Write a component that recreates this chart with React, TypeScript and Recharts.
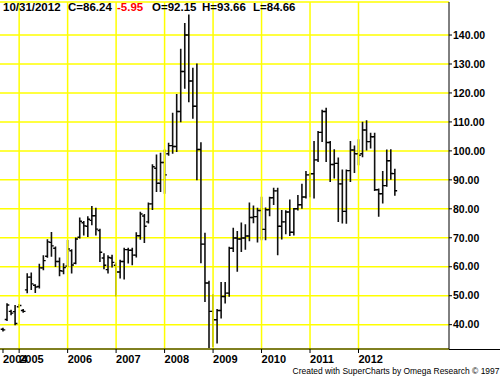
import React from "react"
import {
  ComposedChart,
  Bar,
  XAxis,
  YAxis,
  CartesianGrid,
  ReferenceLine,
} from "recharts"

// monthly bars from Sep 2004 to Oct 2012, month index counted from Jan 2005
const firstMonth = -4

const opens = [
  38.4, 41.8, 44.6, 44.5,
  46.2, 44.9, 52.0, 56.4, 53.6, 53.2, 59.6, 63.6, 68.4, 66.4, 61.8, 58.5,
  60.2, 65.5, 61.2, 70.2, 75.2, 74.0, 76.0, 77.6, 72.5, 63.0, 59.0, 63.0,
  60.5, 58.2, 61.8, 65.9, 65.7, 64.0, 70.7, 77.5, 75.5, 81.7, 94.0, 88.8,
  96.0, 99.0, 101.8, 101.5, 113.6, 127.4, 140.0, 124.1, 115.4, 100.5, 67.8, 54.4,
  44.6, 41.7, 44.9, 49.7, 50.9, 66.4, 69.9, 69.6, 69.9, 70.6, 77.0, 77.3,
  79.4, 72.9, 79.7, 83.8, 86.2, 74.0, 75.5, 78.9, 71.9, 80.0, 81.4, 84.1,
  91.7, 92.1, 96.9, 106.4, 113.6, 102.9, 95.3, 95.7, 88.6, 79.1, 93.2, 100.3,
  99.0, 99.0, 107.2, 103.2, 104.9, 86.6, 85.2, 88.0, 96.6, 92.15,
]
const highs = [
  38.8, 47.2, 45.0, 46.6,
  47.0, 45.2, 57.6, 57.8, 53.8, 60.9, 63.8, 69.3, 71.8, 66.8, 63.0, 61.0,
  69.1, 65.9, 69.9, 76.8, 75.6, 77.3, 80.8, 80.2, 72.9, 64.5, 63.8, 64.0,
  61.3, 62.2, 66.4, 66.4, 66.4, 71.7, 78.8, 78.0, 82.0, 95.2, 98.6, 99.2,
  100.3, 102.6, 113.0, 119.5, 135.1, 144.0, 146.9, 128.5, 130.0, 102.8, 71.6, 55.0,
  50.3, 45.2, 54.6, 54.6, 66.7, 73.3, 72.2, 75.1, 74.5, 82.0, 81.0, 80.2,
  84.0, 80.3, 84.0, 87.1, 87.1, 79.4, 79.3, 83.0, 80.1, 84.6, 88.5, 92.9,
  92.3, 103.2, 106.7, 114.0, 114.7, 103.2, 100.4, 97.5, 93.4, 93.4, 103.2, 101.7,
  103.8, 109.9, 110.4, 106.1, 106.1, 86.8, 92.9, 100.3, 100.4, 93.66,
]
const lows = [
  37.8, 41.4, 43.4, 40.0,
  46.0, 44.3, 51.0, 52.1, 51.1, 52.7, 59.0, 63.3, 63.6, 60.1, 56.9, 57.6,
  60.1, 57.8, 61.0, 69.9, 71.0, 70.4, 74.5, 71.0, 61.8, 59.3, 57.8, 59.9,
  49.9, 56.1, 55.8, 61.3, 60.7, 63.4, 69.5, 68.4, 75.1, 79.8, 86.0, 86.0,
  85.4, 98.5, 99.2, 99.8, 110.1, 121.6, 117.0, 111.3, 90.0, 61.4, 48.0, 32.1,
  32.5, 33.7, 42.3, 47.5, 49.8, 65.3, 58.4, 65.3, 66.0, 69.0, 75.2, 68.5,
  69.3, 69.3, 77.6, 81.5, 64.1, 69.6, 71.4, 70.8, 71.0, 79.6, 80.2, 83.7,
  84.2, 83.7, 96.3, 103.2, 96.3, 89.4, 90.6, 75.6, 75.1, 75.0, 89.4, 92.5,
  95.2, 98.0, 100.3, 101.0, 86.3, 77.4, 82.0, 87.8, 90.2, 84.66,
]
const closes = [
  38.2, 46.8, 44.0, 40.4,
  46.6, 44.6, 56.4, 54.1, 53.0, 59.6, 62.1, 68.6, 67.2, 61.8, 58.6, 59.7,
  66.1, 60.6, 69.6, 75.7, 74.1, 76.4, 77.6, 73.0, 65.0, 60.5, 63.2, 61.5,
  58.2, 61.8, 65.9, 65.7, 64.0, 70.7, 78.2, 74.0, 81.7, 94.5, 88.8, 96.0,
  91.7, 101.8, 101.5, 113.6, 127.4, 140.0, 124.1, 115.4, 100.5, 67.8, 54.4, 44.6,
  41.7, 44.9, 49.7, 50.9, 66.4, 69.9, 69.6, 69.9, 70.6, 77.0, 77.3, 79.4,
  72.9, 79.7, 83.8, 86.2, 74.0, 75.5, 78.9, 71.9, 80.0, 81.4, 84.1, 91.7,
  92.1, 96.9, 106.4, 113.6, 102.9, 95.3, 95.7, 88.6, 79.1, 93.2, 100.3, 99.0,
  98.5, 107.2, 103.2, 104.9, 86.6, 85.2, 88.0, 96.6, 92.2, 86.24,
]

const yearTicks = [-4, 0, 12, 24, 36, 48, 60, 72, 84]
const yearLabels = ["2004", "2005", "2006", "2007", "2008", "2009", "2010", "2011", "2012"]
const yearLines = [0, 12, 24, 36, 48, 60, 72, 84]
const priceTicks = [40, 50, 60, 70, 80, 90, 100, 110, 120, 130, 140]

const data = opens.map((o, i) => ({
  t: firstMonth + i,
  open: o,
  high: highs[i],
  low: lows[i],
  close: closes[i],
  range: [lows[i], highs[i]],
}))

const boldFont = "'Liberation Sans', Arial, sans-serif"

function OhlcBar(props: any) {
  const { x, y, width, height, payload } = props
  if (x == null || y == null || !payload) return null
  const cx = x + width / 2
  const top = Math.min(y, y + height)
  const bottom = Math.max(y, y + height)
  const span = payload.high - payload.low
  const py = (v: number) =>
    span === 0 ? top : top + ((payload.high - v) / span) * (bottom - top)
  const yo = py(payload.open)
  const yc = py(payload.close)
  return (
    <g>
      <line x1={cx} x2={cx} y1={top - 0.5} y2={bottom + 0.5} stroke="#111" strokeWidth={1.6} />
      <line x1={cx - 2.3} x2={cx} y1={yo} y2={yo} stroke="#000" strokeWidth={1.4} />
      <line x1={cx} x2={cx + 2.3} y1={yc} y2={yc} stroke="#000" strokeWidth={1.4} />
    </g>
  )
}

export default function App() {
  return (
    <div
      style={{
        position: "absolute",
        left: 0,
        top: 0,
        width: 500,
        height: 378,
        background: "#fff",
        fontFamily: boldFont,
      }}
    >
      <ComposedChart
        width={500}
        height={378}
        data={data}
        margin={{ top: 2, right: 0, bottom: 0, left: 0 }}
      >
        <CartesianGrid horizontal vertical={false} stroke="#ffff00" strokeWidth={1.5} />
        {yearLines.map((t) => (
          <ReferenceLine key={t} x={t} stroke="#ffff00" strokeWidth={1.5} />
        ))}
        <XAxis
          dataKey="t"
          type="number"
          domain={[-4.74, 106.4]}
          ticks={yearTicks}
          interval={0}
          tickFormatter={(v: number) => yearLabels[yearTicks.indexOf(v)] ?? ""}
          height={29}
          axisLine={{ stroke: "#000" }}
          tickLine={{ stroke: "#000" }}
          tickSize={4}
          tickMargin={2}
          tick={{ textAnchor: "start", fontSize: 11, fontWeight: "bold", fill: "#000", fontFamily: boldFont }}
        />
        <YAxis
          orientation="right"
          width={51}
          domain={[31.6, 151.4]}
          ticks={priceTicks}
          interval={0}
          allowDataOverflow
          tickFormatter={(v: number) => v.toFixed(2)}
          axisLine={{ stroke: "#000" }}
          tickLine={{ stroke: "#000" }}
          tickSize={3}
          tickMargin={1}
          tick={{ fontSize: 10.5, fontWeight: "bold", fill: "#000", fontFamily: boldFont }}
        />
        <Bar dataKey="range" barSize={4} shape={<OhlcBar />} isAnimationActive={false} />
      </ComposedChart>

      <div
        style={{
          position: "absolute",
          left: 449,
          top: 349,
          width: 51,
          height: 1,
          background: "#000",
        }}
      />
      <div
        style={{
          position: "absolute",
          top: 0,
          left: 0,
          height: 15,
          lineHeight: "15px",
          fontSize: 11.5,
          fontWeight: "bold",
          whiteSpace: "nowrap",
          color: "#000",
        }}
      >
        <span style={{ position: "absolute", left: 3 }}>10/31/2012</span>
        <span style={{ position: "absolute", left: 68 }}>C=86.24</span>
        <span style={{ position: "absolute", left: 117, color: "#ff0000" }}>-5.95</span>
        <span style={{ position: "absolute", left: 152 }}>O=92.15</span>
        <span style={{ position: "absolute", left: 202 }}>H=93.66</span>
        <span style={{ position: "absolute", left: 253 }}>L=84.66</span>
      </div>
      <div
        style={{
          position: "absolute",
          right: 1,
          top: 364,
          lineHeight: "14px",
          fontSize: 9.5,
          color: "#000",
          whiteSpace: "nowrap",
          transform: "scaleX(0.89)",
          transformOrigin: "right center",
        }}
      >
        Created with SuperCharts by Omega Research © 1997
      </div>
    </div>
  )
}
